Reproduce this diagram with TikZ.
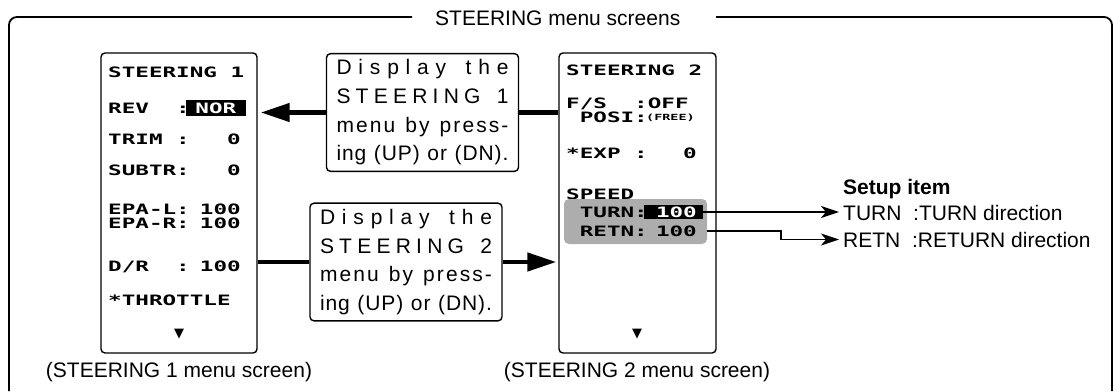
\documentclass[tikz,border=0pt]{standalone}
\usepackage{fontspec}
\setmainfont{Liberation Sans}
\newfontfamily\lcdfont[FakeStretch=1.58]{DejaVu Sans Mono}
\newfontfamily\symfont{DejaVu Sans}
\usetikzlibrary{arrows.meta}

\makeatletter
\newcommand\spaced[1]{\makebox[172pt][s]{\@tfor\sp@ch:=#1\do{\sp@ch\hfil}\unskip}}
\makeatother

\begin{document}
\begin{tikzpicture}[x=1pt,y=-1pt,
  frame/.style={line width=1.8pt,rounded corners=8pt},
  screen/.style={draw,line width=1.4pt,rounded corners=4pt,minimum width=156pt,minimum height=300pt},
  msgbox/.style={draw,line width=1.4pt,rounded corners=4pt,align=left,inner xsep=10pt,inner ysep=6pt,
    font=\fontsize{21}{28.7}\selectfont},
  lcd/.style={inner sep=0pt,text height=10.4pt,text depth=0pt,font=\lcdfont\bfseries\fontsize{14.3}{14.3}\selectfont},
  hl/.style={fill=black,inner sep=0pt},
  plaintext/.style={inner sep=0pt,font=\fontsize{21}{21}\selectfont},
  bigline/.style={line width=4.5pt},
  bigarrow/.style={line width=4.5pt,-{Triangle[length=29pt,width=18pt]}},
  pointer/.style={line width=1.6pt,-{Stealth[length=18pt,width=12pt,inset=5pt]}}]
\useasboundingbox (0,0) rectangle (1118,391);

% outer frame
\node[plaintext,anchor=base west] (title) at (435,25) {STEERING menu screens};
\draw[frame] (412,17) -- (9,17) -- (9,391);
\draw[frame] (716,17) -- (1112,17) -- (1112,391);

% STEERING 1 screen
\node[screen] (scr1) at (179,203) {};
\node[lcd,anchor=west] (s1title) at (108,72) {STEERING~1};
\node[lcd,anchor=west] (s1rev) at (108,108) {REV~~:};
\node[hl,anchor=east,minimum width=60pt,minimum height=16pt] (norhl) at (246,108) {};
\node[lcd,text=white] (norval) at (norhl) {NOR};
\node[lcd,anchor=west] (s1trim) at (108,139) {TRIM~:};
\node[lcd,anchor=east] (s1trimv) at (241,139) {0};
\node[lcd,anchor=west] (s1sub) at (108,170) {SUBTR:};
\node[lcd,anchor=east] (s1subv) at (241,170) {0};
\node[lcd,anchor=west] (s1epal) at (108,209) {EPA-L:};
\node[lcd,anchor=east] (s1epalv) at (241,209) {100};
\node[lcd,anchor=west] (s1epar) at (108,223) {EPA-R:};
\node[lcd,anchor=east] (s1eparv) at (241,223) {100};
\node[lcd,anchor=west] (s1dr) at (108,266) {D/R~~:};
\node[lcd,anchor=east] (s1drv) at (241,266) {100};
\node[lcd,anchor=west] (s1thr) at (108,300) {*THROTTLE};
\node[inner sep=0pt,font=\symfont\fontsize{13}{13}\selectfont] (s1more) at (179,334) {▼};
\node[plaintext,anchor=base] (cap1) at (179,377) {(STEERING 1 menu screen)};

% STEERING 2 screen
\node[screen,minimum width=157pt] (scr2) at (637.5,203) {};
\node[lcd,anchor=west] (s2title) at (566,70) {STEERING~2};
\node[lcd,anchor=west] (s2fs) at (566,103) {F/S~~:OFF};
\node[lcd,anchor=west] (s2posi) at (566,117) {~POSI:};
\node[lcd,anchor=west,text height=6.2pt,font=\lcdfont\bfseries\fontsize{8.5}{8.5}\selectfont] (s2free) at (646,117) {(FREE)};
\node[lcd,anchor=west] (s2exp) at (566,153) {*EXP~:};
\node[lcd,anchor=east] (s2expv) at (697,153) {0};
\node[lcd,anchor=west] (s2speed) at (566,194) {SPEED};
\node[fill=black!32,rounded corners=5pt,minimum width=143pt,minimum height=45pt,inner sep=0pt] (speedbox) at (635.5,221.5) {};
\node[lcd,anchor=west] (s2turn) at (566,212) {~TURN:};
\node[hl,anchor=east,minimum width=59pt,minimum height=14pt] (turnhl) at (703,212) {};
\node[lcd,anchor=east,text=white] (turnval) at (697,212) {100};
\node[lcd,anchor=west] (s2retn) at (566,231) {~RETN:};
\node[lcd,anchor=east] (retnval) at (697,231) {100};
\node[inner sep=0pt,font=\symfont\fontsize{13}{13}\selectfont] (s2more) at (637,334) {▼};
\node[plaintext,anchor=base] (cap2) at (637,377) {(STEERING 2 menu screen)};

% message boxes
\node[msgbox] (box1) at (422.5,112.5) {\spaced{Display~the}\\\spaced{STEERING~1}\\
  \spaced{menu~by~press-}\\\spaced{ing~(UP)~or~(DN).}};
\node[msgbox] (box2) at (406,262) {\spaced{Display~the}\\\spaced{STEERING~2}\\
  \spaced{menu~by~press-}\\\spaced{ing~(UP)~or~(DN).}};

\draw[bigline] (scr2.west |- box1.east) -- (box1.east);
\draw[bigarrow,shorten >=3pt] (box1.west) -- (box1.west -| scr1.east);
\draw[bigline] (scr1.east |- box2.west) -- (box2.west);
\draw[bigarrow,shorten >=2pt] (box2.east) -- (box2.east -| scr2.west);

% setup items
\node[plaintext,anchor=base west,font=\bfseries\fontsize{21}{21}\selectfont] (setup) at (843,194) {Setup item};
\node[plaintext,anchor=base west] (turnitem) at (843,220) {TURN~ :TURN direction};
\node[plaintext,anchor=base west] (retnitem) at (843,247) {RETN~ :RETURN direction};
\coordinate (retnbend) at (781,0);
\draw[pointer,shorten >=4pt] (turnhl.east) -- (turnhl.east -| turnitem.west);
\draw[pointer,shorten >=4pt] (speedbox.east |- retnval.east) -- (retnval.east -| retnbend) |- (retnitem.west);
\end{tikzpicture}
\end{document}
